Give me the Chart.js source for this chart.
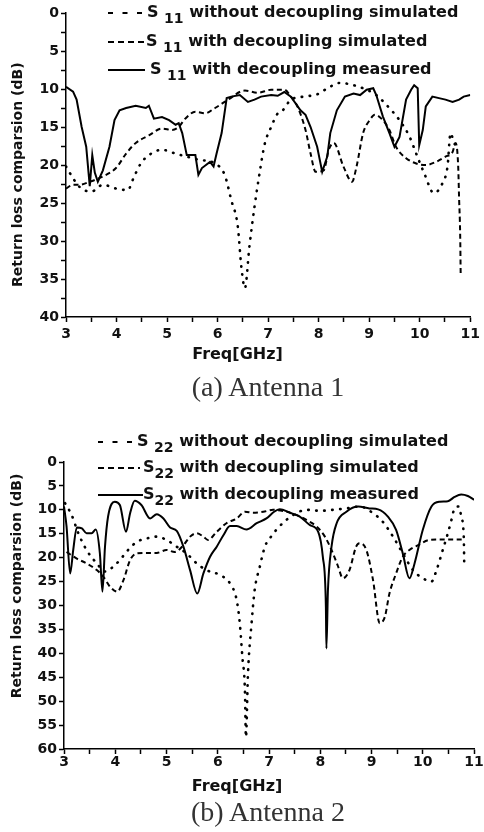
<!DOCTYPE html>
<html>
<head>
<meta charset="utf-8">
<script src="https://cdn.jsdelivr.net/npm/chart.js@4.4.0/dist/chart.umd.min.js"></script>
<style>
body{margin:0;background:#fff;width:484px;height:832px;position:relative;overflow:hidden}
canvas{position:absolute;left:0}
#c1{top:0}
#c2{top:400px}
.cap{position:absolute;left:140px;width:256px;text-align:center;font-family:"Liberation Serif","Times New Roman",serif;font-size:28px;color:#333;line-height:30px}
</style>
</head>
<body>
<canvas id="c1" width="484" height="368"></canvas>
<canvas id="c2" width="484" height="400"></canvas>
<div class="cap" style="top:372px">(a) Antenna 1</div>
<div class="cap" style="top:797px">(b) Antenna 2</div>
<script>
// ---- data, antenna 1 (S11) ----
const labelsA = ['S 11 without decoupling simulated', 'S 11 with decoupling simulated', 'S 11 with decoupling measured'];

const freqA_noDec = [3.0,3.08,3.27,3.5,3.73,3.99,4.22,4.35,4.48,4.64,4.9,5.17,5.39,5.62,5.95,6.14,6.27,6.4,6.47,6.54,6.63,6.73,6.83,6.93,7.06,7.19,7.29,7.45,7.71,7.97,8.2,8.42,8.69,8.95,9.14,9.37,9.6,9.8,9.93,10.09,10.28,10.45,10.55,10.61,10.68,10.78];
const dbA_noDec   = [20.2,21.1,22.9,23.5,22.6,23.1,23.3,21.5,19.8,18.7,18.0,18.5,18.9,19.3,19.8,21.3,24.6,28.1,33.4,36.2,30.7,25.5,21.1,17.3,15.0,13.2,12.8,11.4,11.0,10.7,9.8,9.2,9.5,10.1,10.8,12.3,14.1,16.3,18.5,21.1,23.7,22.4,20.2,15.8,17.1,17.6];

const freqA_decSim = [3.0,3.14,3.27,3.47,3.73,3.99,4.19,4.38,4.64,4.9,5.1,5.23,5.36,5.56,5.75,5.95,6.21,6.54,6.8,7.06,7.32,7.45,7.58,7.74,7.84,7.94,8.1,8.2,8.3,8.49,8.66,8.75,8.88,9.01,9.11,9.27,9.4,9.53,9.73,9.93,10.12,10.32,10.51,10.65,10.71,10.76,10.78,10.8,10.81];
const dbA_decSim   = [23.1,22.6,22.6,22.2,21.5,20.4,18.5,17.1,16.1,15.2,15.4,15.0,13.9,13.0,13.2,12.5,11.4,10.2,10.5,10.1,10.1,11.0,12.3,15.4,18.5,20.9,20.7,18.0,17.1,20.2,22.2,20.2,15.8,14.1,13.4,14.1,15.4,17.6,19.1,19.8,20.0,19.6,18.9,18.3,17.1,20.0,24.6,29.0,34.2];

const freqA_meas = [3.0,3.14,3.21,3.31,3.4,3.47,3.52,3.57,3.63,3.73,3.86,3.96,4.06,4.19,4.38,4.58,4.64,4.74,4.9,5.04,5.17,5.23,5.3,5.39,5.56,5.62,5.69,5.85,5.92,5.98,6.08,6.18,6.27,6.44,6.6,6.73,6.86,7.06,7.19,7.32,7.45,7.64,7.74,7.84,7.97,8.07,8.17,8.23,8.36,8.52,8.69,8.82,8.95,9.08,9.14,9.27,9.4,9.5,9.6,9.73,9.83,9.89,9.96,9.99,10.06,10.12,10.25,10.38,10.51,10.65,10.78,10.87,11.0];
const dbA_meas   = [9.7,10.35,11.4,15.0,17.6,22.8,18.7,21.0,22.2,20.7,17.6,14.1,12.8,12.5,12.2,12.5,12.2,13.9,13.7,14.1,14.7,14.5,15.8,18.7,18.7,21.3,20.4,19.6,20.2,18.5,15.8,11.2,11.0,10.8,11.7,11.4,11.0,10.8,10.9,10.4,11.0,12.8,13.4,15.0,17.6,20.9,18.9,15.8,12.8,11.0,10.6,10.8,10.1,9.9,10.8,13.6,15.8,17.6,16.3,11.4,10.1,9.5,9.9,17.4,15.4,12.3,11.0,11.2,11.4,11.7,11.4,11.0,10.8];

// ---- data, antenna 2 (S22) ----
const labelsB = ['S 22 without decoupling simulated', 'S22 with decoupling simulated', 'S22 with decoupling measured'];

const freqB_noDec = [3.02,3.15,3.28,3.44,3.64,3.8,3.96,4.09,4.25,4.42,4.61,4.81,5.0,5.2,5.39,5.59,5.78,6.04,6.24,6.37,6.43,6.48,6.53,6.55,6.59,6.66,6.72,6.82,6.92,7.04,7.2,7.47,7.73,7.99,8.25,8.51,8.77,9.03,9.22,9.42,9.61,9.81,10.0,10.17,10.26,10.39,10.49,10.56,10.62,10.71,10.75,10.8,10.81];
const dbB_noDec   = [8.6,11.1,14.9,18.4,21.2,22.9,21.9,20.5,18.4,16.7,16.0,15.6,16.3,17.7,19.1,21.2,22.6,23.6,25.4,28.9,33.7,40.7,47.7,57.5,44.2,33.7,26.8,21.9,17.7,15.6,13.5,11.1,10.0,10.2,10.0,9.7,9.3,10.7,12.5,15.6,19.1,22.6,24.3,25.0,22.9,18.4,14.9,12.1,9.7,9.3,11.4,15.6,21.5];

const freqB_decSim = [3.05,3.25,3.44,3.64,3.77,3.9,4.04,4.16,4.29,4.42,4.61,4.81,5.0,5.16,5.33,5.46,5.59,5.72,5.81,5.98,6.17,6.37,6.53,6.69,6.89,7.08,7.34,7.54,7.73,7.93,8.09,8.22,8.35,8.44,8.57,8.7,8.77,8.9,9.03,9.16,9.26,9.35,9.48,9.61,9.74,9.91,10.13,10.39,10.65,10.8];
const dbB_decSim   = [18.8,20.2,21.2,22.6,24.0,26.1,27.1,24.7,20.5,19.1,19.0,19.0,18.4,18.8,17.4,15.6,14.9,15.6,16.3,14.6,12.8,11.8,10.4,10.6,10.4,10.0,10.4,11.1,12.1,13.5,15.6,18.4,21.9,24.3,22.6,17.7,17.0,18.4,24.7,33.7,32.4,27.5,23.3,19.8,18.4,17.4,16.3,16.2,16.2,16.2];

const freqB_meas = [3.0,3.05,3.12,3.18,3.25,3.35,3.44,3.54,3.62,3.7,3.75,3.8,3.86,3.99,4.09,4.21,4.29,4.38,4.51,4.68,4.81,4.94,5.07,5.2,5.33,5.46,5.6,5.72,5.85,5.98,6.11,6.24,6.37,6.56,6.76,6.95,7.1,7.21,7.41,7.6,7.8,7.96,8.05,8.11,8.12,8.15,8.22,8.32,8.51,8.74,8.96,9.13,9.32,9.48,9.61,9.74,9.84,10.0,10.17,10.33,10.49,10.62,10.75,10.88,11.0];
const dbB_meas   = [9.3,13.5,23.3,18.4,13.7,13.9,14.9,14.9,14.1,19.1,27.1,17.7,11.4,8.3,9.0,14.6,10.7,8.1,9.0,11.8,10.9,11.8,13.7,14.4,17.7,22.6,27.5,23.3,19.8,17.7,15.3,13.4,13.4,14.1,12.8,11.8,10.4,9.9,10.6,11.4,13.2,14.6,19.8,30.3,39.0,26.8,17.7,12.8,10.4,9.3,9.7,9.9,11.4,14.2,19.1,24.3,21.2,14.2,9.3,8.3,8.2,7.3,6.8,7.1,7.9];

// tick labels
const xTicks = [3,4,5,6,7,8,9,10,11];
const yTicksA = [0,5,10,15,20,25,30,35,40];
const yTicksB = [0,5,10,15,20,25,30,35,40,45,50,55,60];

const yTitle = 'Return loss comparsion (dB)';
const FONT = '"DejaVu Sans", "Liberation Sans", Arial, sans-serif';

function pts(xs, ys){ return xs.map((x, i) => ({x: x, y: ys[i]})); }

// legend with subscripts, drawn over the plot
const subLegend = {
  id: 'subLegend',
  afterDraw(chart, args, o){
    const ctx = chart.ctx;
    ctx.save();
    chart.data.datasets.forEach((ds, i) => {
      const y = o.y[i];
      ctx.strokeStyle = '#000';
      ctx.lineWidth = 2;
      ctx.setLineDash(o.dash[i]);
      ctx.beginPath();
      ctx.moveTo(o.x0, y);
      ctx.lineTo(o.x1[i], y);
      ctx.stroke();
      ctx.setLineDash([]);
      const m = ds.label.match(/^(S ?)(\d+)(.*)$/);
      ctx.fillStyle = '#111';
      ctx.textBaseline = 'middle';
      ctx.font = 'bold 16px ' + FONT;
      let x = o.tx[i];
      ctx.fillText(m[1], x, y);
      x += ctx.measureText(m[1]).width;
      ctx.font = 'bold 14px ' + FONT;
      ctx.fillText(m[2], x, y + 6);
      x += ctx.measureText(m[2]).width;
      ctx.font = 'bold 16px ' + FONT;
      ctx.fillText(m[3], x, y);
    });
    ctx.restore();
  }
};

// L holds the layout numbers of one panel
function makeChart(id, labels, series, yTicks, yStep, L){
  const styles = [
    {borderDash: [0.5, 7.5], borderWidth: 2.6, borderCapStyle: 'round'},
    {borderDash: [5, 3.5], borderWidth: 2},
    {borderDash: [], borderWidth: 2}
  ];
  return new Chart(document.getElementById(id), {
    type: 'line',
    data: {
      datasets: series.map((s, i) => Object.assign({
        label: labels[i],
        data: pts(s[0], s[1]),
        borderColor: '#000',
        pointRadius: 0,
        tension: s[2],
        cubicInterpolationMode: s[2] ? 'monotone' : 'default',
        fill: false
      }, styles[i]))
    },
    options: {
      responsive: false,
      animation: false,
      events: [],
      layout: {padding: {top: L.top, right: L.right, left: 0, bottom: 0}},
      plugins: {
        legend: {display: false},
        tooltip: {enabled: false},
        title: {
          display: true, text: 'Freq[GHz]', position: 'bottom', color: '#111',
          font: {family: FONT, size: 16, weight: 'bold', lineHeight: 1.125},
          padding: {top: 0, bottom: 4}
        },
        subLegend: L.legend
      },
      scales: {
        x: {
          type: 'linear', min: 3, max: 11,
          afterFit: s => { s.height = L.xH; },
          border: {color: '#000', width: 1.5},
          grid: {drawOnChartArea: false, tickLength: 5, color: '#000', tickWidth: 1.5},
          ticks: {
            stepSize: 0.5, autoSkip: false, maxRotation: 0, padding: L.xPad,
            color: '#111', font: {family: FONT, size: 14, weight: 'bold'},
            callback: v => xTicks.includes(v) ? v : ''
          }
        },
        y: {
          reverse: true, min: yTicks[0], max: yTicks[yTicks.length - 1],
          afterFit: s => { s.width = L.yW; },
          border: {color: '#000', width: 1.5},
          grid: {drawOnChartArea: false, tickLength: 5, color: '#000', tickWidth: 1.5},
          title: {
            // spaces nudge the centred title along the axis
            display: true, text: L.yTitle, color: '#111',
            font: {family: FONT, size: 14, weight: 'bold', lineHeight: 1.2},
            padding: {top: L.yTitlePad, bottom: 0}
          },
          ticks: {
            stepSize: yStep, autoSkip: false, padding: 2,
            color: '#111', font: {family: FONT, size: 14, weight: 'bold'},
            callback: v => yTicks.includes(v) ? v : ''
          }
        }
      }
    },
    plugins: [subLegend]
  });
}

makeChart('c1', labelsA, [
  [freqA_noDec, dbA_noDec, 0.3],
  [freqA_decSim, dbA_decSim, 0.3],
  [freqA_meas, dbA_meas, 0]
], yTicksA, 2.5, {
  top: 13, right: 9, xH: 29, yW: 66, xPad: 4, yTitlePad: 10,
  yTitle: yTitle + '    ',
  legend: {y: [13, 42, 70], x0: 108, x1: [143, 146, 145], tx: [147, 146, 150],
           dash: [[5, 9.5], [6, 4], []]}
});

makeChart('c2', labelsB, [
  [freqB_noDec, dbB_noDec, 0.3],
  [freqB_decSim, dbB_decSim, 0.3],
  [freqB_meas, dbB_meas, 0.3]
], yTicksB, 5, {
  top: 62, right: 10, xH: 29, yW: 64, xPad: 0, yTitlePad: 9,
  yTitle: '        ' + yTitle,
  legend: {y: [42, 68, 95], x0: 98, x1: [133, 140, 143], tx: [137, 143, 143],
           dash: [[5, 9.5], [6, 4], []]}
});
</script>
</body>
</html>
